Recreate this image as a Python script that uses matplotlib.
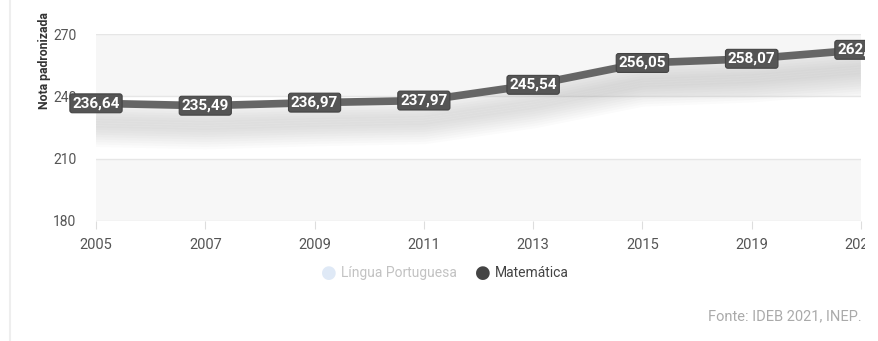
import matplotlib
matplotlib.use("Agg")
import matplotlib.pyplot as plt
from matplotlib.patches import Rectangle
import numpy as np

years = ["2005", "2007", "2009", "2011", "2013", "2015", "2019", "2021"]
matematica = [236.64, 235.49, 236.97, 237.97, 245.54, 256.05, 258.07, 262.38]
labels = ["236,64", "235,49", "236,97", "237,97", "245,54", "256,05", "258,07", "262,38"]
yticks = [180, 210, 240, 270]

plt.rcParams['font.family'] = ['Roboto', 'DejaVu Sans']

W, H = 879, 341
fig = plt.figure(figsize=(W / 100, H / 100), dpi=100)
ax = fig.add_axes([96 / W, 1 - 221 / H, (861 - 96) / W, (221 - 34) / H])
x = np.arange(len(years))

ax.set_xlim(0, len(years) - 1)
ax.set_ylim(180, 270)

# alternating bands
ax.axhspan(240, 270, color='#f6f6f6', zorder=0, lw=0)
ax.axhspan(180, 210, color='#f7f7f7', zorder=0, lw=0)
for yt in yticks:
    ax.axhline(yt, color='#e6e6e6', lw=1, zorder=1)

# shadow under the line
vals = np.array(matematica)
for k, off in enumerate(np.linspace(3, 16, 12)):
    ax.plot(x, vals - off, color='#888888', lw=15, alpha=0.03, zorder=2,
            solid_capstyle='butt', solid_joinstyle='round')

ax.plot(x, vals, color='#666666', lw=5.5, zorder=3, solid_joinstyle='round',
        solid_capstyle='butt')

clip = Rectangle((0, 0), 865, H, transform=None)
for xi, v, lab in zip(x, vals, labels):
    t = ax.text(xi, v, lab, ha='center', va='center', color='white',
                fontsize=11, fontweight='bold', zorder=5,
                bbox=dict(boxstyle='round,pad=0.16', fc='#555555', ec='#444444', lw=0.8))
    t.set_clip_path(clip)
    t.set_clip_on(True)

for s in ax.spines.values():
    s.set_visible(False)
ax.set_yticks(yticks)
ax.set_yticklabels([str(v) for v in yticks])
ax.set_xticks(x)
ax.set_xticklabels(years)
ax.tick_params(axis='y', length=0, pad=14, labelsize=10, labelcolor='#555555')
ax.tick_params(axis='x', length=6, color='#dddddd', pad=6, labelsize=10.5, labelcolor='#555555')
for tl in ax.get_xticklabels():
    tl.set_clip_path(clip)
    tl.set_clip_on(True)
ax.set_facecolor('white')

fig.text(45 / W, 1 - 61 / H, "Nota padronizada", rotation=90, ha='center', va='center',
         fontsize=8.8, fontweight='bold', color='#333333')

# legend
ly = 1 - 273 / H
fig.text(329 / W, ly, "\u25CF", color='#dfe9f6', fontsize=13, ha='center', va='center')
fig.text(341 / W, ly, "Língua Portuguesa", color='#c2c2c2', fontsize=10, ha='left', va='center')
fig.text(483 / W, ly, "\u25CF", color='#444444', fontsize=13, ha='center', va='center')
fig.text(495 / W, ly, "Matemática", color='#444444', fontsize=10, ha='left', va='center')

fig.text(862 / W, 1 - 316 / H, "Fonte: IDEB 2021, INEP.", color='#aaaaaa', fontsize=10.5,
         ha='right', va='center')

# page border on left
fig.add_artist(plt.Line2D([10 / W, 10 / W], [0, 1], color='#eeeeee', lw=1.5))

fig.savefig("out.png", dpi=100)
